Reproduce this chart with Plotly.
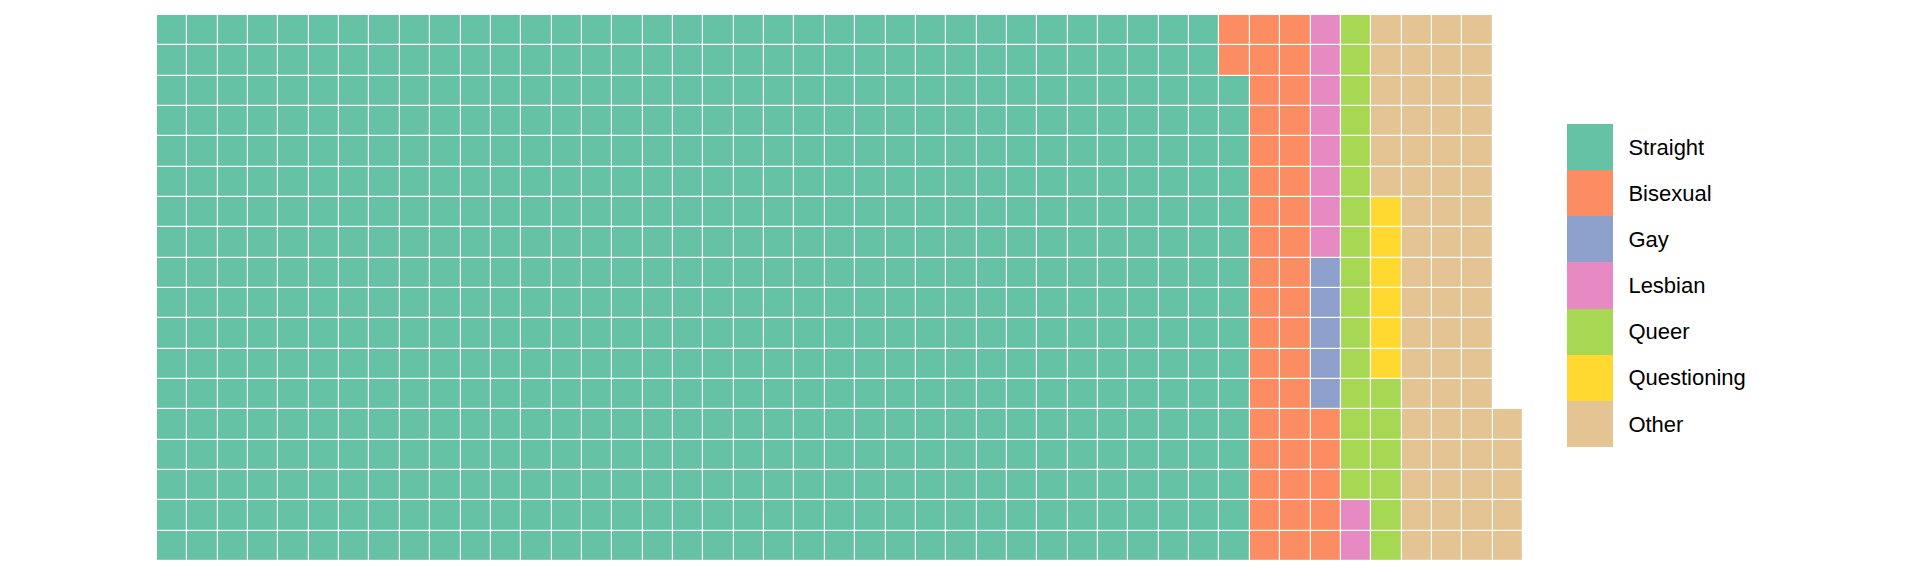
import plotly.graph_objects as go

# ---- data ----
categories = ["Straight", "Bisexual", "Gay", "Lesbian", "Queer", "Questioning", "Other"]
counts = [646, 43, 5, 10, 22, 6, 65]
colors = ["#66C2A5", "#FC8D62", "#8DA0CB", "#E78AC3", "#A6D854", "#FFD92F", "#E5C494"]

n_rows = 18
n_cols = 45

# ---- build waffle grid: fill column by column, bottom to top ----
z = [[None] * n_cols for _ in range(n_rows)]
labels = [[""] * n_cols for _ in range(n_rows)]
idx = 0
for ci, cnt in enumerate(counts):
    for _ in range(cnt):
        col = idx // n_rows
        row = idx % n_rows  # 0 = bottom
        z[row][col] = ci
        labels[row][col] = categories[ci]
        idx += 1

k = len(categories)
colorscale = []
for i, c in enumerate(colors):
    colorscale.append([i / k, c])
    colorscale.append([(i + 1) / k, c])

fig = go.Figure()

fig.add_trace(go.Heatmap(
    z=z,
    x=list(range(n_cols)),
    y=list(range(n_rows)),
    text=labels,
    hovertemplate="%{text}<extra></extra>",
    colorscale=colorscale,
    zmin=-0.5, zmax=k - 0.5,
    showscale=False,
    xgap=1.2, ygap=1.2,
    xaxis="x", yaxis="y",
))

# legend built as a one-column heatmap
legend_z = [[i] for i in range(k)]
fig.add_trace(go.Heatmap(
    z=legend_z,
    x=[0],
    y=list(range(k)),
    text=[[c] for c in categories],
    hovertemplate="%{text}<extra></extra>",
    colorscale=colorscale,
    zmin=-0.5, zmax=k - 0.5,
    showscale=False,
    xaxis="x2", yaxis="y2",
))

W, H = 1920, 576
main_x = [157 / W, 1523 / W]
main_y = [1 - 561 / H, 1 - 15 / H]
leg_x = [1567 / W, 1613 / W]
leg_y = [1 - 447 / H, 1 - 124 / H]

hidden = dict(showgrid=False, zeroline=False, showticklabels=False, ticks="", showline=False)

fig.update_layout(
    width=W, height=H,
    margin=dict(l=0, r=0, t=0, b=0),
    paper_bgcolor="white",
    plot_bgcolor="white",
    font=dict(family="Liberation Sans, Arial, sans-serif", size=22, color="black"),
    xaxis=dict(domain=main_x, range=[-0.5, n_cols - 0.5], **hidden),
    yaxis=dict(domain=main_y, range=[-0.5, n_rows - 0.5], **hidden),
    xaxis2=dict(domain=leg_x, range=[-0.5, 0.5], anchor="y2", **hidden),
    yaxis2=dict(
        domain=leg_y, range=[k - 0.5, -0.5], anchor="x2", side="right",
        showgrid=False, zeroline=False, showline=False,
        tickmode="array", tickvals=list(range(k)), ticktext=categories,
        ticks="outside", ticklen=10, tickcolor="rgba(0,0,0,0)",
        tickfont=dict(size=22, color="black"),
    ),
    showlegend=False,
)

fig.write_html(
    "out.html",
    config={"displayModeBar": False},
    post_script="document.body.style.margin='0';document.body.style.overflow='hidden';",
)
